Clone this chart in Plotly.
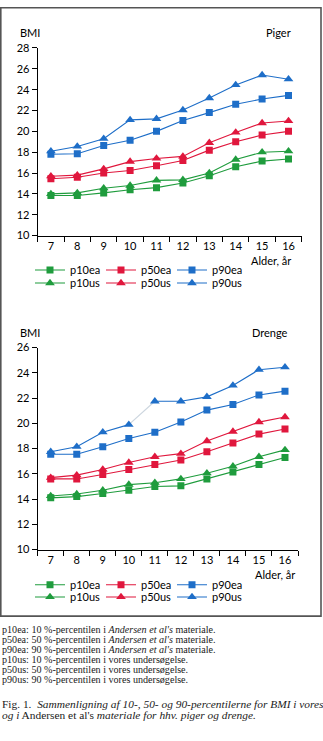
import plotly.graph_objects as go

# Age groups (years)
ages = ["7", "8", "9", "10", "11", "12", "13", "14", "15", "16"]
y_ticks = [10, 12, 14, 16, 18, 20, 22, 24, 26, 28]

# BMI percentiles, girls (Piger)
girls_p10ea = [13.85, 13.85, 14.1, 14.4, 14.6, 15.05, 15.75, 16.6, 17.15, 17.35]
girls_p50ea = [15.45, 15.6, 16.0, 16.25, 16.7, 17.2, 18.2, 19.0, 19.65, 20.0]
girls_p90ea = [17.8, 17.85, 18.65, 19.15, 20.0, 21.05, 21.8, 22.6, 23.1, 23.45]
girls_p10us = [14.0, 14.1, 14.55, 14.8, 15.3, 15.35, 16.0, 17.3, 18.0, 18.1]
girls_p50us = [15.7, 15.8, 16.4, 17.1, 17.4, 17.6, 18.9, 19.9, 20.8, 21.0]
girls_p90us = [18.1, 18.55, 19.3, 21.1, 21.2, 22.05, 23.2, 24.45, 25.4, 25.0]

# BMI percentiles, boys (Drenge)
boys_p10ea = [14.1, 14.2, 14.45, 14.7, 15.0, 15.05, 15.6, 16.15, 16.75, 17.3]
boys_p50ea = [15.6, 15.6, 15.95, 16.35, 16.75, 17.1, 17.75, 18.45, 19.15, 19.55]
boys_p90ea = [17.55, 17.55, 18.15, 18.8, 19.3, 20.1, 21.05, 21.5, 22.25, 22.55]
boys_p10us = [14.25, 14.4, 14.7, 15.15, 15.3, 15.6, 16.05, 16.6, 17.35, 17.9]
boys_p50us = [15.7, 15.9, 16.35, 16.9, 17.35, 17.6, 18.6, 19.35, 20.1, 20.5]
boys_p90us = [17.75, 18.15, 19.3, 19.9, 21.75, 21.75, 22.1, 23.0, 24.25, 24.45]

GREEN = "#1f9c3d"
RED = "#e0173d"
BLUE = "#1e6ec8"
PALE = "#cdd6df"

W, H = 323, 741
TICK_FONT = dict(family="Lato", size=11, color="black")


def px_x(x):
    return x / W


def px_y(y):
    return 1 - y / H


fig = go.Figure()

panels = [
    dict(xa="x", ya="y", legends=("legend", "legend2"),
         data=[("p10ea", girls_p10ea, GREEN, "square"),
               ("p50ea", girls_p50ea, RED, "square"),
               ("p90ea", girls_p90ea, BLUE, "square"),
               ("p10us", girls_p10us, GREEN, "triangle-up"),
               ("p50us", girls_p50us, RED, "triangle-up"),
               ("p90us", girls_p90us, BLUE, "triangle-up")],
         gap=None),
    dict(xa="x2", ya="y2", legends=("legend3", "legend4"),
         data=[("p10ea", boys_p10ea, GREEN, "square"),
               ("p50ea", boys_p50ea, RED, "square"),
               ("p90ea", boys_p90ea, BLUE, "square"),
               ("p10us", boys_p10us, GREEN, "triangle-up"),
               ("p50us", boys_p50us, RED, "triangle-up"),
               ("p90us", boys_p90us, BLUE, "triangle-up")],
         gap=("p90us", 3)),
]

for p in panels:
    for name, vals, col, sym in p["data"]:
        xs, ys = list(ages), list(vals)
        if p["gap"] and p["gap"][0] == name:
            i = p["gap"][1]
            # faint connector between two ages
            fig.add_trace(go.Scatter(
                x=ages[i:i + 2], y=vals[i:i + 2], mode="lines",
                line=dict(color=PALE, width=1.2), showlegend=False,
                hoverinfo="skip", xaxis=p["xa"], yaxis=p["ya"]))
            xs = ages[:i + 1] + [None] + ages[i + 1:]
            ys = vals[:i + 1] + [None] + vals[i + 1:]
        is_sq = sym == "square"
        fig.add_trace(go.Scatter(
            x=xs, y=ys, name=name, mode="lines+markers",
            line=dict(color=col, width=1.1),
            marker=dict(symbol=sym, size=7 if is_sq else 8.5, color=col,
                        line=dict(width=0)),
            legend=p["legends"][0 if name.endswith("ea") else 1],
            xaxis=p["xa"], yaxis=p["ya"], connectgaps=False))

axis_common = dict(showline=True, linecolor="black", linewidth=1,
                   ticks="outside", ticklen=5, tickcolor="black", tickwidth=1,
                   showgrid=False, zeroline=False, tickfont=TICK_FONT,
                   fixedrange=True)

fig.update_layout(
    width=W, height=H,
    margin=dict(l=0, r=0, t=0, b=0),
    paper_bgcolor="white", plot_bgcolor="white",
    xaxis=dict(domain=[px_x(37.7), px_x(301.7)], type="category",
               tickson="boundaries", range=[-0.5, 9.5], anchor="y",
               **axis_common),
    yaxis=dict(domain=[px_y(232.7), px_y(41.7)], range=[10, 28],
               tickvals=y_ticks, anchor="x", **axis_common),
    xaxis2=dict(domain=[px_x(37.7), px_x(298)], type="category",
                tickson="boundaries", range=[-0.5, 9.5], anchor="y2",
                **axis_common),
    yaxis2=dict(domain=[px_y(552.3), px_y(346.7)], range=[10, 26],
                tickvals=y_ticks[:-1], anchor="x2", **axis_common),
)

legend_rows = {"legend": 267.7, "legend2": 281.0,
               "legend3": 588.0, "legend4": 600.5}
for key, yc in legend_rows.items():
    fig.update_layout({key: dict(
        x=px_x(30), xanchor="left", y=px_y(yc), yanchor="middle",
        orientation="h", entrywidth=26, entrywidthmode="pixels",
        font=dict(family="Lato", size=11, color="black"),
        bgcolor="rgba(0,0,0,0)", borderwidth=0, traceorder="normal")})

labels = [
    ("BMI", 18, 26, "left"), ("Piger", 293, 26, "right"),
    ("Alder, år", 293, 258, "right"),
    ("BMI", 18, 331.7, "left"), ("Drenge", 290, 331.7, "right"),
    ("Alder, år", 297, 578, "right"),
]
for text, x, y, anchor in labels:
    fig.add_annotation(text=text, x=px_x(x), y=px_y(y), xref="paper",
                       yref="paper", xanchor=anchor, yanchor="middle",
                       showarrow=False, font=TICK_FONT)

caption_lines = [
    "p10ea: 10 %-percentilen i <i>Andersen et al's</i> materiale.",
    "p50ea: 50 %-percentilen i <i>Andersen et al's</i> materiale.",
    "p90ea: 90 %-percentilen i <i>Andersen et al's</i> materiale.",
    "p10us: 10 %-percentilen i vores undersøgelse.",
    "p50us: 50 %-percentilen i vores undersøgelse.",
    "p90us: 90 %-percentilen i vores undersøgelse.",
]
for i, line in enumerate(caption_lines):
    fig.add_annotation(text=line, x=0, y=px_y(634 + 10 * i), xref="paper",
                       yref="paper", xanchor="left", yanchor="middle",
                       showarrow=False,
                       font=dict(family="Liberation Serif", size=10.1,
                                 color="#1a1a1a"))

fig_caption = [
    ("Fig. 1.\u00a0 <i>Sammenligning af 10-, 50- og 90-percentilerne for "
     "BMI i vores</i>", 709),
    ("<i>og i</i> Andersen et al's <i>materiale for hhv. piger og drenge.</i>",
     721),
]
for text, y in fig_caption:
    fig.add_annotation(text=text, x=0, y=px_y(y), xref="paper", yref="paper",
                       xanchor="left", yanchor="middle", showarrow=False,
                       font=dict(family="Liberation Serif", size=11.4,
                                 color="#1a1a1a"))

# frame around both panels
fig.add_shape(type="rect", xref="paper", yref="paper",
              x0=px_x(0.8), x1=px_x(321), y0=px_y(620), y1=px_y(0.8),
              line=dict(color="#555", width=1.6), fillcolor="rgba(0,0,0,0)")

fig.write_html("out.html")
